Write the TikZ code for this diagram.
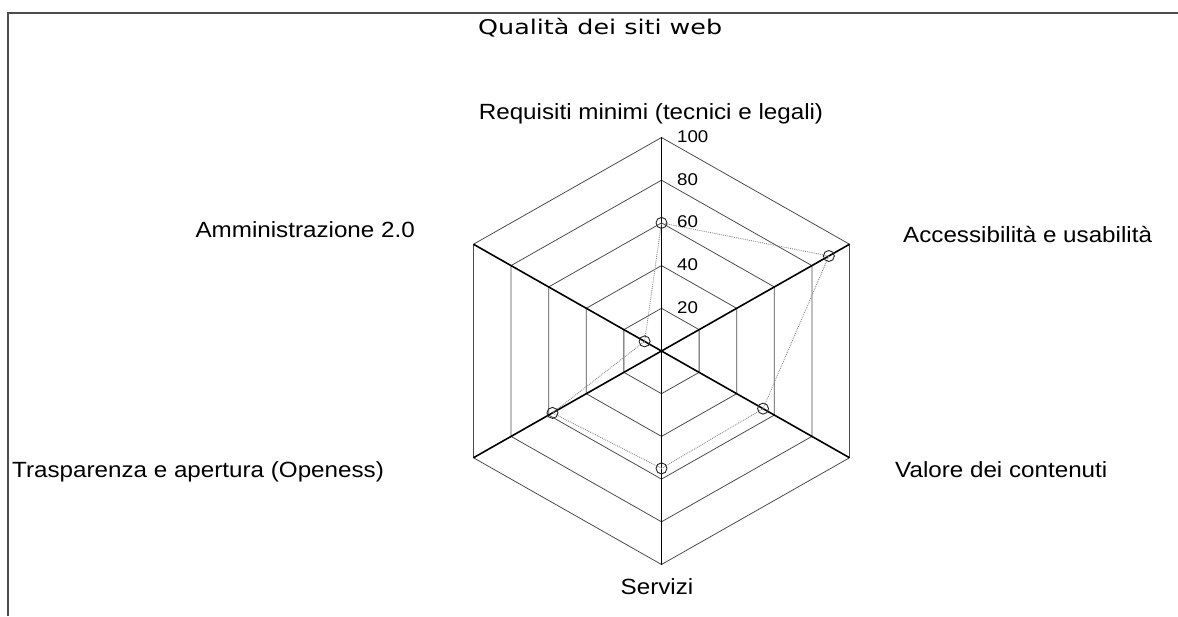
\documentclass[tikz,border=0pt]{standalone}
\usepackage{fontspec}
\setmainfont{Liberation Sans}[FakeStretch=1.1]
\newfontfamily\titlefont{DejaVu Sans}[FakeStretch=1.25]

\begin{document}
\begin{tikzpicture}[x=1pt,y=1pt,
  frame/.style={black!70, line width=1.2pt},
  ring/.style={black!70, line width=0.8pt},
  spoke/.style={black, line width=1.6pt},
  serie/.style={black!45, line width=0.9pt, densely dotted},
  marker/.style={draw=black!85, circle, minimum size=11pt, inner sep=0pt, line width=0.9pt},
  lbl/.style={font=\fontsize{22}{26}\selectfont, inner sep=0pt},
  tick/.style={font=\fontsize{17}{20}\selectfont, inner sep=0pt, anchor=base west}]
\useasboundingbox (-661.5,-265) rectangle (516.5,351);

% cornice
\draw[frame] (-653.5,-265) -- (-653.5,338) -- (516.5,338);

\begin{scope}[xscale=1.017]
% anelli 20..100
\foreach \r in {42.7,85.4,128.1,170.8,213.5}
  \draw[ring] (90:\r) -- (30:\r) -- (-30:\r) -- (-90:\r) -- (210:\r) -- (150:\r) -- cycle;
% assi
\draw[spoke] (90:213.5) -- (-90:213.5);
\draw[spoke] (30:213.5) -- (210:213.5);
\draw[spoke] (150:213.5) -- (-30:213.5);
% serie
\coordinate (req) at (90:128.1);
\coordinate (acc) at (30:190);
\coordinate (val) at (-30:115.3);
\coordinate (ser) at (-90:117.4);
\coordinate (tra) at (210:123.8);
\coordinate (amm) at (150:19.2);
\draw[serie] (req) -- (acc) -- (val) -- (ser) -- (tra) -- (amm) -- cycle;
\foreach \p in {req,acc,val,ser,tra,amm}
  \node[marker] (m\p) at (\p) {};
\end{scope}

% valori
\node[tick] (t20) at (15.5,37.7) {20};
\node[tick] (t40) at (15.5,80.4) {40};
\node[tick] (t60) at (15.5,123.1) {60};
\node[tick] (t80) at (15.5,165.8) {80};
\node[tick] (t100) at (15.5,208.5) {100};

% etichette
\node[inner sep=0pt, anchor=base west, font=\titlefont\fontsize{20.3}{24}\selectfont] (titolo) at (-183.5,316) {Qualità dei siti web};
\node[lbl, anchor=base] (lreq) at (-10.5,231) {Requisiti minimi (tecnici e legali)};
\node[lbl, anchor=base west] (lacc) at (241.5,108) {Accessibilità e usabilità};
\node[lbl, anchor=base west] (lval) at (233.5,-126) {Valore dei contenuti};
\node[lbl, anchor=base] (lser) at (-4.5,-243) {Servizi};
\node[lbl, anchor=base west] (ltra) at (-649.5,-126) {Trasparenza e apertura (Openess)};
\node[lbl, anchor=base east] (lamm) at (-246.5,113) {Amministrazione 2.0};
\end{tikzpicture}
\end{document}
